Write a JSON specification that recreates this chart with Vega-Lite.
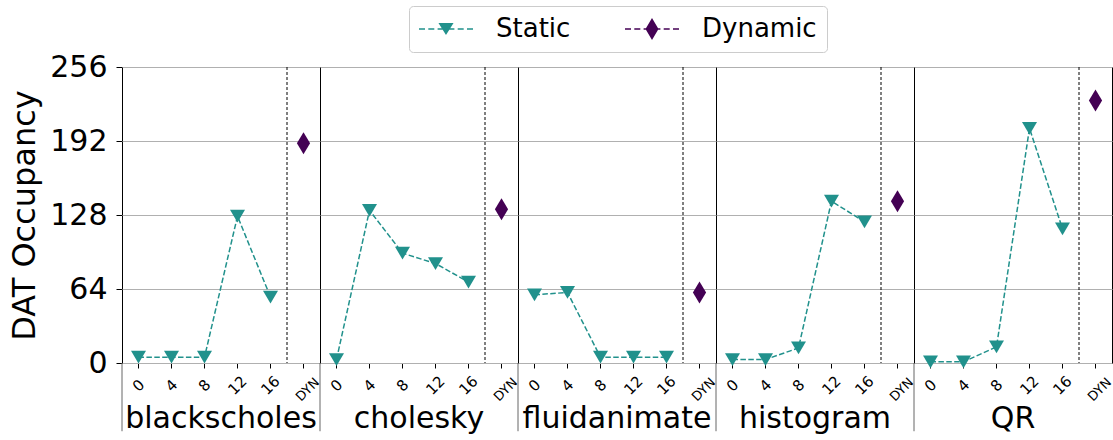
{
  "$schema": "https://vega.github.io/schema/vega-lite/v6.json",
  "padding": {"left": 8, "top": 5, "right": 0, "bottom": 0},
  "autosize": {"type": "pad"},
  "bounds": "flush",
  "config": {
    "font": "DejaVu Sans",
    "view": {"stroke": "black", "strokeWidth": 1},
    "axisY": {
      "labelFontSize": 30, "labelColor": "black", "labelPadding": 9,
      "titleFontSize": 32, "titleFontWeight": "normal", "titleColor": "black", "titlePadding": 8,
      "tickColor": "black", "tickSize": 6, "grid": true, "gridColor": "#b0b0b0", "gridWidth": 1.2,
      "domainColor": "black"
    },
    "axisX": {
      "labelColor": "black", "tickColor": "black", "tickSize": 5, "grid": false, "domainColor": "black"
    }
  },
  "data": {"values": [
    {"bench": "blackscholes", "series": "Static", "x": "0", "v": 5},
    {"bench": "blackscholes", "series": "Static", "x": "4", "v": 5},
    {"bench": "blackscholes", "series": "Static", "x": "8", "v": 5},
    {"bench": "blackscholes", "series": "Static", "x": "12", "v": 127},
    {"bench": "blackscholes", "series": "Static", "x": "16", "v": 57},
    {"bench": "blackscholes", "series": "Dynamic", "x": "DYN", "v": 190},
    {"bench": "cholesky", "series": "Static", "x": "0", "v": 3},
    {"bench": "cholesky", "series": "Static", "x": "4", "v": 132},
    {"bench": "cholesky", "series": "Static", "x": "8", "v": 95},
    {"bench": "cholesky", "series": "Static", "x": "12", "v": 86},
    {"bench": "cholesky", "series": "Static", "x": "16", "v": 70},
    {"bench": "cholesky", "series": "Dynamic", "x": "DYN", "v": 133},
    {"bench": "fluidanimate", "series": "Static", "x": "0", "v": 59},
    {"bench": "fluidanimate", "series": "Static", "x": "4", "v": 61},
    {"bench": "fluidanimate", "series": "Static", "x": "8", "v": 5},
    {"bench": "fluidanimate", "series": "Static", "x": "12", "v": 5},
    {"bench": "fluidanimate", "series": "Static", "x": "16", "v": 5},
    {"bench": "fluidanimate", "series": "Dynamic", "x": "DYN", "v": 61},
    {"bench": "histogram", "series": "Static", "x": "0", "v": 3},
    {"bench": "histogram", "series": "Static", "x": "4", "v": 3},
    {"bench": "histogram", "series": "Static", "x": "8", "v": 13},
    {"bench": "histogram", "series": "Static", "x": "12", "v": 140},
    {"bench": "histogram", "series": "Static", "x": "16", "v": 122},
    {"bench": "histogram", "series": "Dynamic", "x": "DYN", "v": 140},
    {"bench": "QR", "series": "Static", "x": "0", "v": 1},
    {"bench": "QR", "series": "Static", "x": "4", "v": 1},
    {"bench": "QR", "series": "Static", "x": "8", "v": 14},
    {"bench": "QR", "series": "Static", "x": "12", "v": 203},
    {"bench": "QR", "series": "Static", "x": "16", "v": 116},
    {"bench": "QR", "series": "Dynamic", "x": "DYN", "v": 227}
  ]},
  "spacing": 0,
  "facet": {
    "column": {
      "field": "bench", "type": "nominal",
      "sort": ["blackscholes", "cholesky", "fluidanimate", "histogram", "QR"],
      "header": {"title": null, "labelOrient": "bottom", "labelFontSize": 30, "labelColor": "black", "labelPadding": 0, "labelFont": "DejaVu Sans"}
    }
  },
  "spec": {
    "width": 198,
    "height": 296,
    "layer": [
      {
        "transform": [{"filter": "datum.x === '0'"}],
        "mark": {"type": "rule", "color": "#666666", "strokeWidth": 1},
        "encoding": {
          "x": {"field": "x", "type": "ordinal", "bandPosition": 0,
                "sort": ["0", "4", "8", "12", "16", "DYN"],
                "scale": {"type": "band", "paddingInner": 0, "paddingOuter": 0},
                "axis": {"title": null, "labelAngle": -45, "labelAlign": "center", "labelPadding": 17,
                  "labelExpr": "datum.value === 'DYN' ? 'DYN\u00a0\u00a0\u00a0\u00a0\u00a0' : datum.label",
                  "labelBaseline": {"condition": {"test": "datum.value === 'DYN'", "value": "top"}, "value": "middle"},
                  "labelFontSize": {"condition": {"test": "datum.value === 'DYN'", "value": 13}, "value": 15}}},
          "y": {"datum": -59, "type": "quantitative", "scale": {"domain": [0, 256], "nice": false},
                "axis": {"title": "DAT Occupancy", "values": [0, 64, 128, 192, 256]}},
          "y2": {"datum": 0}
        }
      },
      {
        "transform": [{"filter": "datum.x === 'DYN'"}],
        "mark": {"type": "rule", "color": "black", "strokeWidth": 1, "strokeDash": [3, 2]},
        "encoding": {
          "x": {"field": "x", "type": "ordinal", "bandPosition": 0, "sort": ["0", "4", "8", "12", "16", "DYN"]}
        }
      },
      {
        "transform": [{"filter": "datum.series === 'Static'"}],
        "mark": {"type": "line", "color": "#21918c", "strokeWidth": 1.5, "strokeDash": [5.5, 2.4]},
        "encoding": {
          "x": {"field": "x", "type": "ordinal", "sort": ["0", "4", "8", "12", "16", "DYN"]},
          "y": {"field": "v", "type": "quantitative", "scale": {"domain": [0, 256], "nice": false}}
        }
      },
      {
        "transform": [{"filter": "datum.series === 'Static'"}],
        "mark": {"type": "point", "filled": true, "opacity": 1, "color": "#21918c", "size": 225,
                 "shape": "M-1,-0.85L1,-0.85L0,0.85Z"},
        "encoding": {
          "x": {"field": "x", "type": "ordinal", "sort": ["0", "4", "8", "12", "16", "DYN"]},
          "y": {"field": "v", "type": "quantitative", "scale": {"domain": [0, 256], "nice": false}}
        }
      },
      {
        "transform": [{"filter": "datum.series === 'Dynamic'"}],
        "mark": {"type": "point", "filled": true, "opacity": 1, "color": "#440154", "size": 484,
                 "shape": "M0,-1L0.6,0L0,1L-0.6,0Z"},
        "encoding": {
          "x": {"field": "x", "type": "ordinal", "sort": ["0", "4", "8", "12", "16", "DYN"]},
          "y": {"field": "v", "type": "quantitative", "scale": {"domain": [0, 256], "nice": false}}
        }
      },
      {
        "mark": {"type": "point", "filled": true, "opacity": 0},
        "encoding": {
          "x": {"field": "x", "type": "ordinal", "sort": ["0", "4", "8", "12", "16", "DYN"]},
          "y": {"field": "v", "type": "quantitative", "scale": {"domain": [0, 256], "nice": false}},
          "color": {"field": "series", "type": "nominal",
            "scale": {"domain": ["Static", "Dynamic"], "range": ["#21918c", "#440154"]},
            "legend": {"title": null, "orient": "none", "legendX": 287, "legendY": -61, "direction": "horizontal",
              "strokeColor": "#cccccc", "fillColor": "white", "cornerRadius": 4, "padding": 10,
              "labelFontSize": 26, "labelColor": "black", "labelFont": "DejaVu Sans", "symbolSize": 676, "labelOffset": 51,
              "columnPadding": 54, "symbolOpacity": 1, "symbolStrokeWidth": 0}},
          "shape": {"field": "series", "type": "nominal",
            "scale": {"domain": ["Static", "Dynamic"], "range": [
              "M-1,-0.058H-0.538V0.058H-1ZM-0.285,-0.058H0.177V0.058H-0.285ZM0.431,-0.058H0.892V0.058H0.431ZM1.262,-0.058H1.723V0.058H1.262ZM1.977,-0.058H2.438V0.058H1.977ZM2.692,-0.058H3.154V0.058H2.692ZM0.497,-0.46L1.657,-0.46L1.077,0.46Z",
              "M-1,-0.058H-0.538V0.058H-1ZM-0.285,-0.058H0.177V0.058H-0.285ZM0.431,-0.058H0.892V0.058H0.431ZM1.262,-0.058H1.723V0.058H1.262ZM1.977,-0.058H2.438V0.058H1.977ZM2.692,-0.058H3.154V0.058H2.692ZM1.077,-0.85L1.577,0L1.077,0.85L0.577,0Z"
            ]},
            "legend": {"title": null, "orient": "none", "legendX": 287, "legendY": -61, "direction": "horizontal",
              "strokeColor": "#cccccc", "fillColor": "white", "cornerRadius": 4, "padding": 10,
              "labelFontSize": 26, "labelColor": "black", "labelFont": "DejaVu Sans", "symbolSize": 676, "labelOffset": 51,
              "columnPadding": 54, "symbolOpacity": 1, "symbolStrokeWidth": 0}}
        }
      }
    ]
  }
}
